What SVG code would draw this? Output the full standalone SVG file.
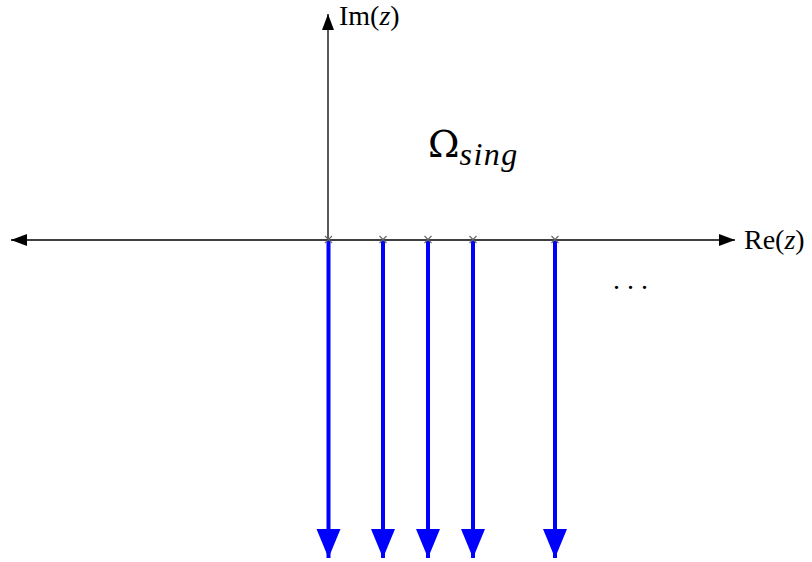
<svg xmlns="http://www.w3.org/2000/svg" width="812" height="562" viewBox="0 0 812 562">
<style>
.ax{stroke:#000;stroke-width:1.3;fill:none}
.cut{stroke:#0000ff;stroke-width:4;fill:none}
.cross{stroke:#666;stroke-width:1.1}
.t{font-family:"Liberation Serif","Times New Roman",serif;fill:#000}
.i{font-style:italic}
</style>
<defs>
<marker id="ah" markerUnits="userSpaceOnUse" markerWidth="18" markerHeight="14" refX="16" refY="7" orient="auto"><path d="M0,1 L16,7 L0,13 Z" fill="#000"/></marker>
<marker id="bh" markerUnits="userSpaceOnUse" markerWidth="30" markerHeight="26" refX="29" refY="12.5" orient="auto"><path d="M0,0.5 L29,12.5 L0,24.5 Z" fill="#0000ff"/></marker>
</defs>
<g id="connectors">
<line class="ax" x1="328" y1="240" x2="328" y2="14" marker-end="url(#ah)"/>
<line class="ax" x1="328" y1="240" x2="11" y2="240" marker-end="url(#ah)"/>
<line class="ax" x1="328" y1="240" x2="735" y2="240" marker-end="url(#ah)"/>
<line class="cut" x1="328.5" y1="240" x2="328.5" y2="558" marker-end="url(#bh)"/>
<line class="cut" x1="383" y1="240" x2="383" y2="558" marker-end="url(#bh)"/>
<line class="cut" x1="428" y1="240" x2="428" y2="558" marker-end="url(#bh)"/>
<line class="cut" x1="473" y1="240" x2="473" y2="558" marker-end="url(#bh)"/>
<line class="cut" x1="555" y1="240" x2="555" y2="558" marker-end="url(#bh)"/>
</g>
<g id="singularities">
<path class="cross" d="M325,236 l7,7 M332,236 l-7,7"/>
<path class="cross" d="M379.5,236 l7,7 M386.5,236 l-7,7"/>
<path class="cross" d="M424.5,236 l7,7 M431.5,236 l-7,7"/>
<path class="cross" d="M469.5,236 l7,7 M476.5,236 l-7,7"/>
<path class="cross" d="M551.5,236 l7,7 M558.5,236 l-7,7"/>
</g>
<g id="label-im"><text class="t" x="339" y="25" font-size="28">Im(<tspan class="i">z</tspan>)</text></g>
<g id="label-re"><text class="t" x="744" y="249" font-size="28">Re(<tspan class="i">z</tspan>)</text></g>
<g id="label-omega"><text x="428" y="157" font-family="'DejaVu Serif', serif" font-size="38">Ω<tspan font-family="'Liberation Serif', serif" font-style="italic" font-size="32" letter-spacing="1.5" dy="8">sing</tspan></text></g>
<g id="dots"><text class="t" y="289" font-size="28"><tspan x="613">.</tspan><tspan x="627">.</tspan><tspan x="641">.</tspan></text></g>
</svg>
